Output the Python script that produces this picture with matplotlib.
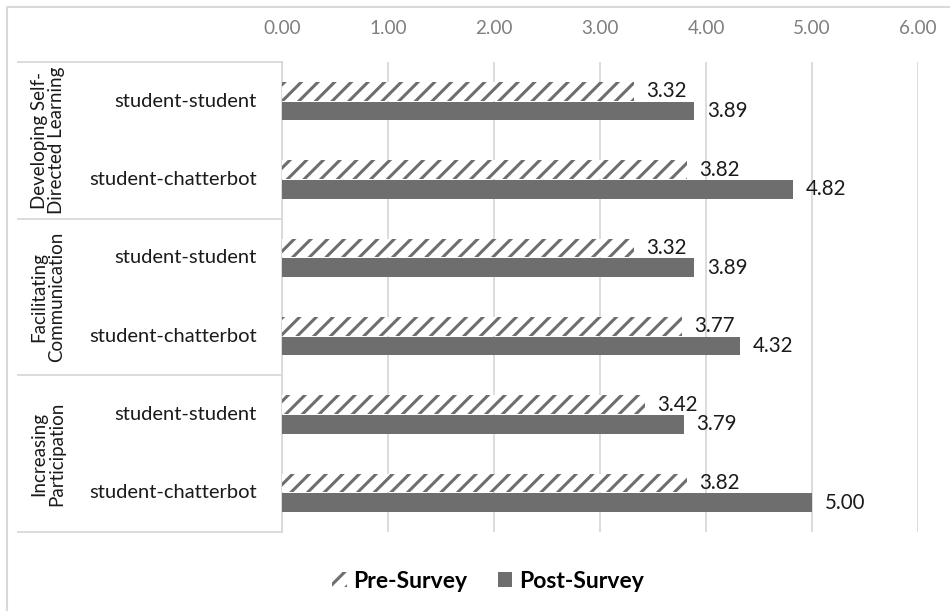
import matplotlib.pyplot as plt
import numpy as np
from matplotlib.lines import Line2D
from matplotlib.patches import Patch

plt.rcParams['font.family'] = ['Lato', 'DejaVu Sans']
plt.rcParams['hatch.linewidth'] = 2.2
plt.rcParams['hatch.color'] = '#6e6e6e'

groups = ['Developing Self-\nDirected Learning',
          'Facilitating\nCommunication',
          'Increasing\nParticipation']
subcats = ['student-student', 'student-chatterbot'] * 3
pre = [3.32, 3.82, 3.32, 3.77, 3.42, 3.82]
post = [3.89, 4.82, 3.89, 4.32, 3.79, 5.00]
xticks = [0, 1, 2, 3, 4, 5, 6]

W, H = 950, 611
fig = plt.figure(figsize=(9.5, 6.11), dpi=100)

def fx(px):
    return px / W

def fy(py):
    return 1 - py / H

# plot area
ax = fig.add_axes([fx(282), fy(532), fx(918) - fx(282), fy(62) - fy(532)])

y = np.arange(len(subcats))
h = 0.24
gray = '#6e6e6e'

ax.barh(y - 0.125, pre, height=h, color='white', edgecolor=gray,
        hatch='//', linewidth=0, zorder=3)
ax.barh(y + 0.125, post, height=h, color=gray, linewidth=0, zorder=3)

for i in range(len(subcats)):
    ax.text(pre[i] + 0.12, y[i] - 0.125, f'{pre[i]:.2f}', fontsize=14.8,
            color='#1a1a1a', va='center', ha='left')
    ax.text(post[i] + 0.12, y[i] + 0.125, f'{post[i]:.2f}', fontsize=14.8,
            color='#1a1a1a', va='center', ha='left')

ax.set_xlim(0, 6)
ax.set_ylim(len(subcats) - 0.5, -0.5)
ax.set_xticks(xticks)
ax.set_xticklabels([f'{v:.2f}' for v in xticks], fontsize=13.6, color='#7f7f7f')
ax.xaxis.tick_top()
ax.tick_params(axis='x', length=0, pad=18)
ax.set_yticks([])
ax.grid(axis='x', color='#d9d9d9', linewidth=1.3, zorder=0)
for s in ['top', 'right', 'bottom']:
    ax.spines[s].set_visible(False)
ax.spines['left'].set_color('#d9d9d9')
ax.spines['left'].set_linewidth(1.3)

# category labels on the left
cat_y = np.linspace(62, 532, 7)
for i, lab in enumerate(subcats):
    cy = (cat_y[i] + cat_y[i + 1]) / 2
    fig.text(fx(257), fy(cy), lab, fontsize=14.5, color='#1a1a1a',
             ha='right', va='center')

# group labels and separators
bounds = [62, 219, 375, 532]
for b in bounds:
    fig.add_artist(Line2D([fx(18), fx(282)], [fy(b), fy(b)],
                          color='#d9d9d9', linewidth=1.3))
for i, g in enumerate(groups):
    cy = (bounds[i] + bounds[i + 1]) / 2
    fig.text(fx(48), fy(cy), g, fontsize=13.5, color='#1a1a1a', rotation=90,
             ha='center', va='center', linespacing=1.05)

# outer frame
fig.add_artist(Line2D([fx(7), fx(7), 1.0], [0, fy(7), fy(7)],
                      color='#d9d9d9', linewidth=1.5))

handles = [Patch(facecolor='white', edgecolor=gray, hatch='//', linewidth=0),
           Patch(facecolor=gray, linewidth=0)]
fig.legend(handles, ['Pre-Survey', 'Post-Survey'], loc='center',
           bbox_to_anchor=(fx(488), fy(581)), ncol=2, frameon=False,
           prop={'size': 16.5, 'weight': 'bold'}, handlelength=0.65,
           handleheight=0.65, handletextpad=0.3, columnspacing=1.3)

fig.savefig('out.png', dpi=100)
